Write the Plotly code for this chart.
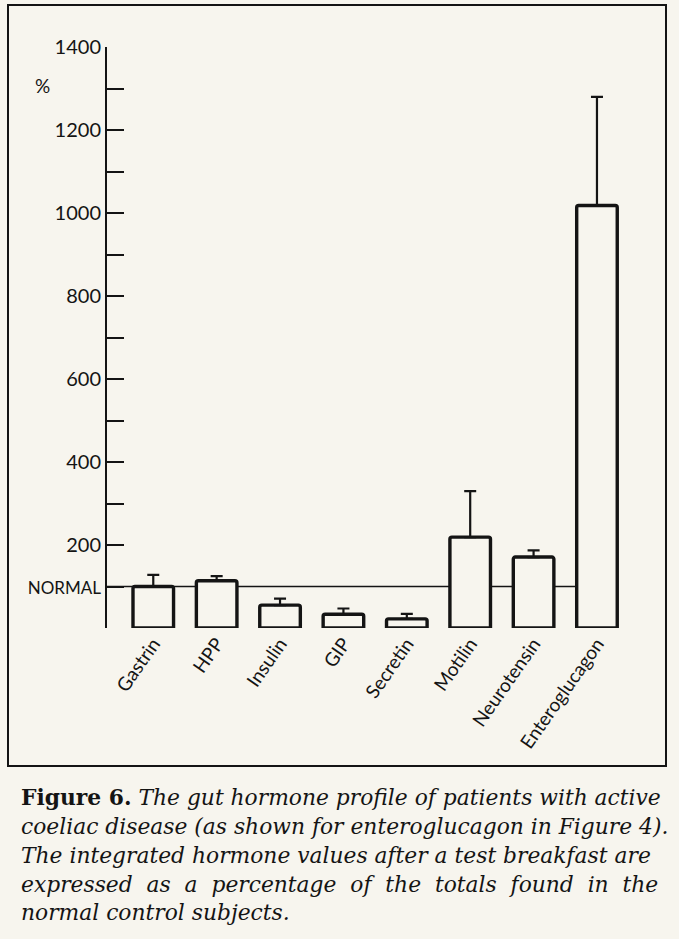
import plotly.graph_objects as go

# ---- data ----
hormones = ["Gastrin", "HPP", "Insulin", "GIP", "Secretin", "Motilin",
            "Neurotensin", "Enteroglucagon"]
percent_of_normal = [100, 114, 55, 33, 22, 219, 171, 1018]
error_upper = [28, 11, 16, 14, 12, 111, 16, 262]
NORMAL_LEVEL = 100

y_tick_values = list(range(0, 1401, 100))
y_tick_text = ["" if v == 0 else
               ('<span style="font-size:17px">NORMAL</span>' if v == NORMAL_LEVEL else
                (str(v) if v % 200 == 0 else ""))
               for v in y_tick_values]

caption_lines = [
    "<b>Figure 6.</b> <i>The gut hormone profile of patients with active</i>",
    "<i>coeliac disease (as shown for enteroglucagon in Figure 4).</i>",
    "<i>The integrated hormone values after a test breakfast are</i>",
    "<i>expressed  as  a  percentage  of  the  totals  found  in  the</i>",
    "<i>normal control subjects.</i>",
]

BG = "#f7f5ee"
INK = "#141414"
SANS = "Lato, DejaVu Sans, sans-serif"
SERIF = "DejaVu Serif, Liberation Serif, serif"

W, H = 679, 939
L, R, T, B = 107, 44, 47, 311
plot_w = W - L - R
plot_h = H - T - B


def px_x(px):
    return (px - L) / plot_w


def px_y(py):
    return (H - B - py) / plot_h


fig = go.Figure()
fig.add_trace(go.Bar(
    x=hormones,
    y=percent_of_normal,
    width=0.64,
    marker=dict(color=BG, line=dict(color=INK, width=3.4), cornerradius=2),
    error_y=dict(type="data", symmetric=False, array=error_upper,
                 arrayminus=[0] * len(error_upper),
                 color=INK, thickness=2.2, width=6),
    hoverinfo="x+y",
))

# normal reference line (drawn beneath the bars)
fig.add_shape(type="line", xref="x", yref="y", layer="below",
              x0=-0.85, x1=len(hormones) - 1, y0=NORMAL_LEVEL, y1=NORMAL_LEVEL,
              line=dict(color=INK, width=1.5))

# frame around the figure panel
fig.add_shape(type="rect", xref="paper", yref="paper",
              x0=px_x(8), x1=px_x(666), y0=px_y(766), y1=px_y(5),
              line=dict(color=INK, width=2))

# unit label
fig.add_annotation(xref="paper", yref="paper", x=px_x(42), y=px_y(86),
                   text="%", showarrow=False, font=dict(family=SANS, size=19, color=INK),
                   xanchor="center", yanchor="middle")

caption_y = [797, 826, 855, 884, 912]
for line, cy in zip(caption_lines, caption_y):
    fig.add_annotation(xref="paper", yref="paper", x=px_x(19), y=px_y(cy),
                       text=line, showarrow=False, xanchor="left", yanchor="middle",
                       font=dict(family=SERIF, size=21.8, color=INK))

fig.update_layout(
    width=W, height=H,
    margin=dict(l=L, r=R, t=T, b=B, pad=0),
    paper_bgcolor=BG, plot_bgcolor=BG,
    showlegend=False,
    xaxis=dict(range=[-0.73, 7.6], showline=False, showgrid=False, zeroline=False,
               ticks="", tickangle=-55,
               tickfont=dict(family=SANS, size=19, color=INK)),
    yaxis=dict(range=[0, 1400], showline=True, linecolor=INK, linewidth=2,
               showgrid=False, zeroline=False,
               ticks="inside", ticklen=17, tickwidth=2, tickcolor=INK,
               tickvals=y_tick_values, ticktext=y_tick_text,
               tickfont=dict(family=SANS, size=20, color=INK)),
)

fig.write_html("out.html", config={"displayModeBar": False},
               post_script="document.body.style.margin='0';")
